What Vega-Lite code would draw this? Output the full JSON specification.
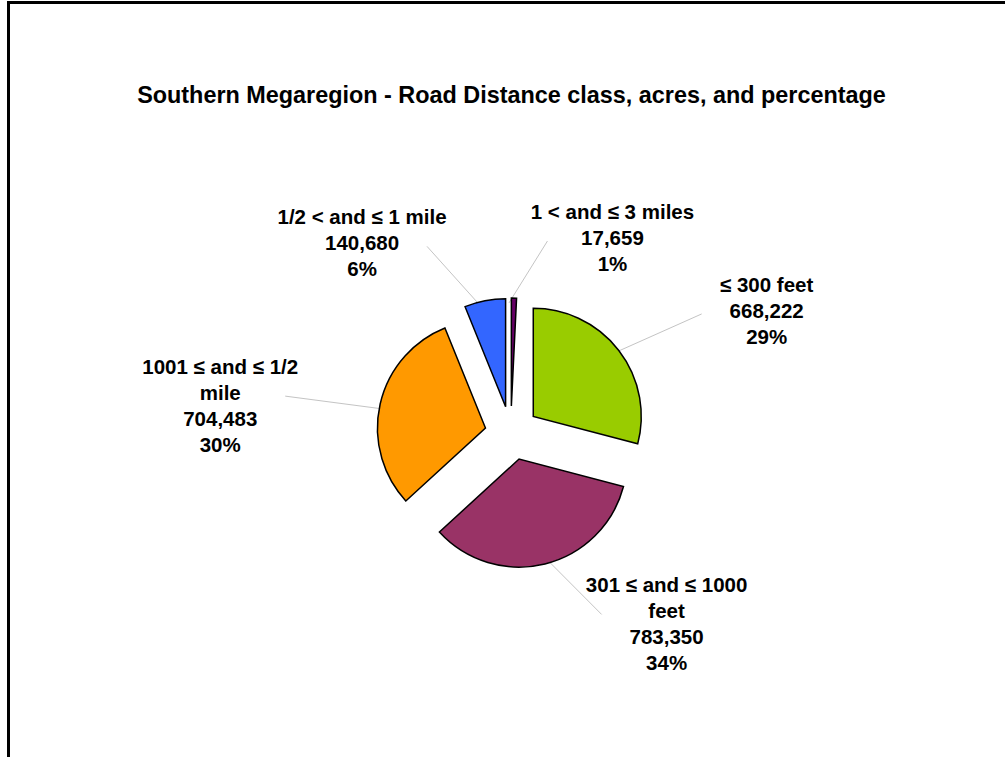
{
  "$schema": "https://vega.github.io/schema/vega-lite/v6.json",
  "width": 997,
  "height": 755,
  "padding": {"left": 8, "top": 2, "right": 0, "bottom": 0},
  "autosize": {"type": "none"},
  "background": "white",
  "config": {"view": {"stroke": null}, "font": "Liberation Sans"},
  "title": {
    "text": "Southern Megaregion - Road Distance class, acres, and percentage",
    "font": "Liberation Sans",
    "fontSize": 23.4,
    "fontWeight": "bold",
    "color": "black",
    "anchor": "middle",
    "offset": -106,
    "dx": 5
  },
  "data": {
    "values": [
      {"class": "≤ 300 feet", "acres": 668222},
      {"class": "301 ≤ and ≤ 1000\nfeet", "acres": 783350},
      {"class": "1001 ≤ and ≤ 1/2\nmile", "acres": 704483},
      {"class": "1/2 < and ≤ 1 mile", "acres": 140680},
      {"class": "1 < and ≤ 3 miles", "acres": 17659}
    ]
  },
  "transform": [
    {"joinaggregate": [{"op": "sum", "field": "acres", "as": "total"}]},
    {"stack": "acres", "groupby": [], "as": ["a0", "a1"]},
    {"calculate": "PI * (datum.a0 + datum.a1) / datum.total", "as": "mid"},
    {"calculate": "27 * sin(datum.mid)", "as": "ex"},
    {"calculate": "27 * cos(datum.mid)", "as": "ey"},
    {"calculate": "sin(datum.mid) > -0.05 ? 1 : -1", "as": "side"},
    {"calculate": "190 * sin(datum.mid) + 105 * datum.side", "as": "tx"},
    {"calculate": "190 * cos(datum.mid) + 30", "as": "ty"},
    {"calculate": "130 * sin(datum.mid)", "as": "lx"},
    {"calculate": "130 * cos(datum.mid)", "as": "ly"},
    {"calculate": "datum.tx - 65 * datum.side", "as": "lx2"},
    {"calculate": "datum.ty - 28", "as": "ly2"},
    {"calculate": "datum.class + '\\n' + format(datum.acres, ',') + '\\n' + format(datum.acres / datum.total, '.0%')", "as": "label"}
  ],
  "layer": [
    {
      "mark": {"type": "rule", "color": "#c4c4c4", "strokeWidth": 1},
      "encoding": {
        "x": {"field": "lx", "type": "quantitative", "scale": {"domain": [-504, 493], "nice": false, "zero": false}, "axis": {"orient": "top", "title": null, "labels": false, "ticks": false, "grid": false, "domain": true, "domainColor": "black", "domainWidth": 3, "domainCap": "square"}},
        "y": {"field": "ly", "type": "quantitative", "scale": {"domain": [-324, 431], "nice": false, "zero": false}, "axis": {"orient": "left", "title": null, "labels": false, "ticks": false, "grid": false, "domain": true, "domainColor": "black", "domainWidth": 3, "domainCap": "square"}},
        "x2": {"field": "lx2"},
        "y2": {"field": "ly2"}
      }
    },
    {
      "mark": {"type": "arc", "radius": 108, "stroke": "black", "strokeWidth": 1.5},
      "encoding": {
        "x": {"field": "ex", "type": "quantitative", "scale": {"domain": [-504, 493], "nice": false, "zero": false}, "axis": {"orient": "top", "title": null, "labels": false, "ticks": false, "grid": false, "domain": true, "domainColor": "black", "domainWidth": 3, "domainCap": "square"}},
        "y": {"field": "ey", "type": "quantitative", "scale": {"domain": [-324, 431], "nice": false, "zero": false}, "axis": {"orient": "left", "title": null, "labels": false, "ticks": false, "grid": false, "domain": true, "domainColor": "black", "domainWidth": 3, "domainCap": "square"}},
        "theta": {"field": "a0", "type": "quantitative", "stack": null, "scale": {"zero": true, "nice": false}},
        "theta2": {"field": "a1"},
        "color": {
          "field": "class",
          "type": "nominal",
          "scale": {
            "domain": ["≤ 300 feet", "301 ≤ and ≤ 1000\nfeet", "1001 ≤ and ≤ 1/2\nmile", "1/2 < and ≤ 1 mile", "1 < and ≤ 3 miles"],
            "range": ["#99CC00", "#993366", "#FF9900", "#3366FF", "#660066"]
          },
          "legend": null
        }
      }
    },
    {
      "mark": {"type": "text", "font": "Liberation Sans", "fontSize": 20.5, "fontWeight": "bold", "color": "black", "align": "center", "baseline": "middle", "lineBreak": "\n", "lineHeight": 26},
      "encoding": {
        "x": {"field": "tx", "type": "quantitative", "scale": {"domain": [-504, 493], "nice": false, "zero": false}, "axis": {"orient": "top", "title": null, "labels": false, "ticks": false, "grid": false, "domain": true, "domainColor": "black", "domainWidth": 3, "domainCap": "square"}},
        "y": {"field": "ty", "type": "quantitative", "scale": {"domain": [-324, 431], "nice": false, "zero": false}, "axis": {"orient": "left", "title": null, "labels": false, "ticks": false, "grid": false, "domain": true, "domainColor": "black", "domainWidth": 3, "domainCap": "square"}},
        "text": {"field": "label"}
      }
    }
  ]
}
